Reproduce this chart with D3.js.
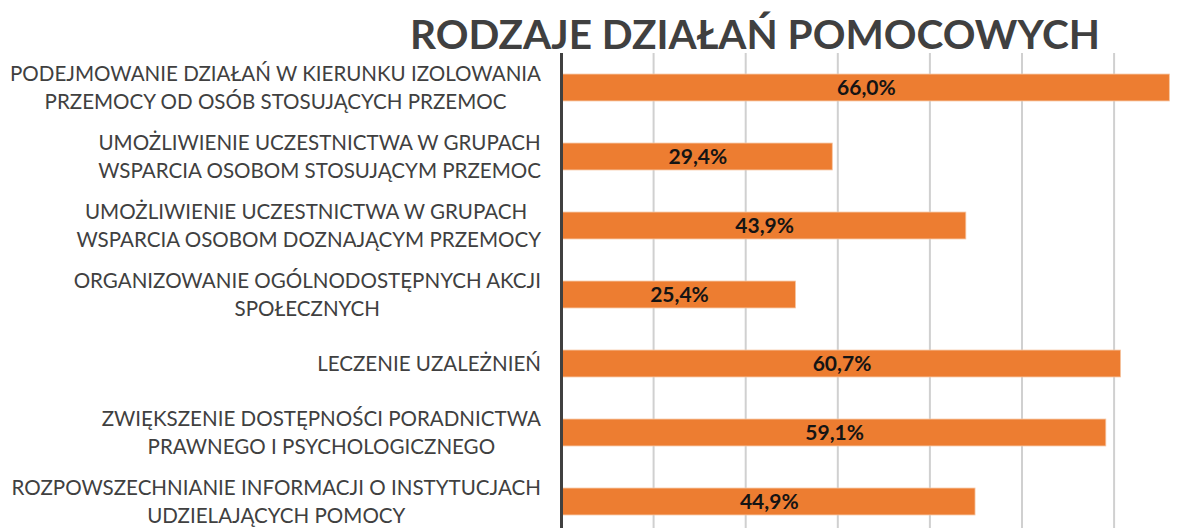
<!DOCTYPE html>
<html>
<head>
<meta charset="utf-8">
<script src="https://cdn.jsdelivr.net/npm/d3@7/dist/d3.min.js"></script>
<style>
  html, body { margin: 0; padding: 0; background: #ffffff; }
  svg { display: block; }
</style>
</head>
<body>
<svg id="chart" width="1192" height="528"></svg>
<script>
const title = "RODZAJE DZIAŁAŃ POMOCOWYCH";
const categories = [
  ["PODEJMOWANIE DZIAŁAŃ W KIERUNKU IZOLOWANIA", "PRZEMOCY OD OSÓB STOSUJĄCYCH PRZEMOC"],
  ["UMOŻLIWIENIE UCZESTNICTWA W GRUPACH", "WSPARCIA OSOBOM STOSUJĄCYM PRZEMOC"],
  ["UMOŻLIWIENIE UCZESTNICTWA W GRUPACH ", "WSPARCIA OSOBOM DOZNAJĄCYM PRZEMOCY"],
  ["ORGANIZOWANIE OGÓLNODOSTĘPNYCH AKCJI", "SPOŁECZNYCH"],
  ["LECZENIE UZALEŻNIEŃ"],
  ["ZWIĘKSZENIE DOSTĘPNOŚCI PORADNICTWA", "PRAWNEGO I PSYCHOLOGICZNEGO"],
  ["ROZPOWSZECHNIANIE INFORMACJI O INSTYTUCJACH", "UDZIELAJĄCYCH POMOCY"]
];
const values = [0.660, 0.294, 0.439, 0.254, 0.607, 0.591, 0.449];
const valueLabels = ["66,0%", "29,4%", "43,9%", "25,4%", "60,7%", "59,1%", "44,9%"];
const gridTicks = [0.1, 0.2, 0.3, 0.4, 0.5, 0.6, 0.7];

const svg = d3.select("#chart");
const ids = categories.map((c, i) => "c" + i);

const plotLeft = 561.5, plotTop = 53, plotBottom = 536;
const x = d3.scaleLinear().domain([0, 0.7]).range([plotLeft, plotLeft + 644.7]);
const y = d3.scaleBand().domain(ids).range([plotTop, plotBottom]).paddingInner(0.61).paddingOuter(0.305);

// gridlines
svg.append("g").selectAll("line").data(gridTicks).join("line")
  .attr("x1", d => x(d)).attr("x2", d => x(d))
  .attr("y1", plotTop).attr("y2", plotBottom)
  .attr("stroke", "#d0d0d0").attr("stroke-width", 2);

// bars
svg.append("g").selectAll("rect").data(values).join("rect")
  .attr("x", x(0))
  .attr("y", (d, i) => y(ids[i]))
  .attr("width", d => x(d) - x(0))
  .attr("height", y.bandwidth())
  .attr("fill", "#ED7D31")
  .attr("stroke", "#f6c4a0").attr("stroke-width", 0.8);

// axis line
svg.append("line")
  .attr("x1", plotLeft).attr("x2", plotLeft)
  .attr("y1", plotTop).attr("y2", plotBottom)
  .attr("stroke", "#404040").attr("stroke-width", 3);

// value labels
svg.append("g").selectAll("text").data(values).join("text")
  .attr("x", d => (x(0) + x(d)) / 2 + 1)
  .attr("y", (d, i) => y(ids[i]) + y.bandwidth() / 2)
  .attr("dy", "0.36em")
  .attr("text-anchor", "middle")
  .attr("font-family", "Lato, 'Open Sans', sans-serif")
  .attr("font-weight", "bold")
  .attr("font-size", 21)
  .attr("fill", "#141414")
  .text((d, i) => valueLabels[i]);

// category labels
const labelRight = 541, lineH = 28.5;
const lblG = svg.append("g");
const groups = lblG.selectAll("text").data(categories).join("text")
  .attr("font-family", "Lato, 'Open Sans', sans-serif")
  .attr("font-size", 21)
  .attr("fill", "#404040")
  .attr("text-anchor", "middle")
  .style("white-space", "pre");
groups.each(function(lines, i) {
  const t = d3.select(this);
  const cy = y(ids[i]) + y.bandwidth() / 2;
  lines.forEach((ln, k) => {
    t.append("tspan")
      .attr("y", cy + (k - (lines.length - 1) / 2) * lineH)
      .attr("dy", "0.36em")
      .text(ln);
  });
});
// measure & compress horizontally to match narrow original face
let maxW = 0;
lblG.selectAll("tspan").each(function() { maxW = Math.max(maxW, this.getComputedTextLength()); });
const ratio = 531 / maxW;
groups.each(function() {
  const spans = d3.select(this).selectAll("tspan");
  let bw = 0;
  spans.each(function() { bw = Math.max(bw, this.getComputedTextLength() * ratio); });
  const cx = labelRight - bw / 2;
  spans.each(function() {
    const w = this.getComputedTextLength();
    d3.select(this).attr("x", cx).attr("textLength", w * ratio).attr("lengthAdjust", "spacingAndGlyphs");
  });
});

// title
const tt = svg.append("text")
  .attr("x", 755).attr("y", 49)
  .attr("text-anchor", "middle")
  .attr("font-family", "Lato, 'Open Sans', sans-serif")
  .attr("font-weight", "bold")
  .attr("font-size", 40)
  .attr("fill", "#404040")
  .text(title);
tt.attr("textLength", 690).attr("lengthAdjust", "spacingAndGlyphs");
</script>
</body>
</html>
